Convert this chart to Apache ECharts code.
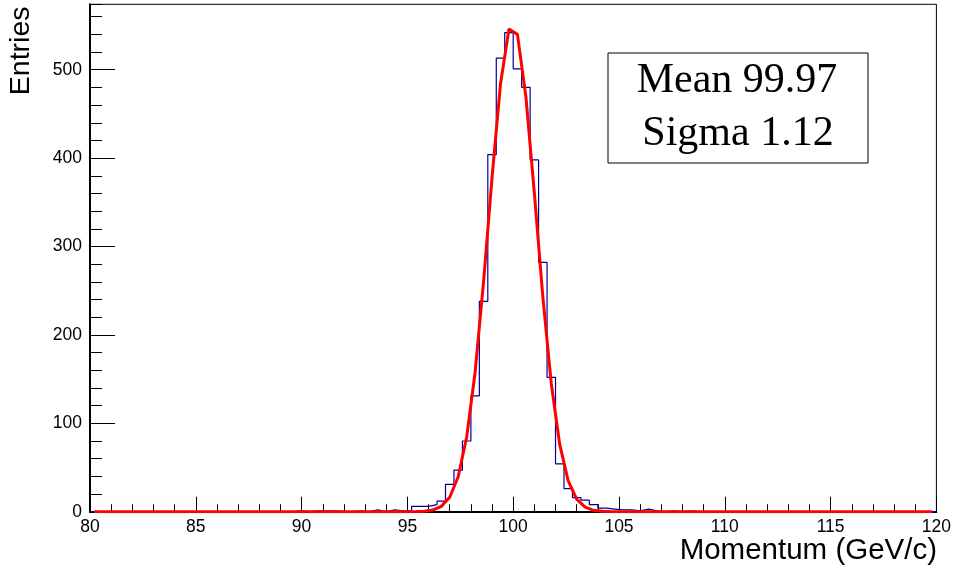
<!DOCTYPE html>
<html>
<head>
<meta charset="utf-8">
<script src="https://cdn.jsdelivr.net/npm/echarts@6/dist/echarts.min.js"></script>
<style>
html,body{margin:0;padding:0;background:#fff;}
#chart{width:954px;height:572px;}
</style>
</head>
<body>
<div id="chart"></div>
<script>
// ---- data ----
const BIN_MIN = 80;
const BIN_WIDTH = 0.4;
const X_MIN = 80, X_MAX = 120;
const Y_MAX = 574;
const xTitle = 'Momentum (GeV/c)';
const yTitle = 'Entries';
const statLines = ['Mean 99.97', 'Sigma 1.12'];

// histogram counts, 100 bins of width 0.4 from 80 to 120
const counts = [
  0,0,0,0,0,0,0,0,0,0,
  0,0,0,0,0,0,0,0,0,0,
  0,0,0,0,1,0,1,1,1,0,
  0,1,0,2,0,2,1,1,6,6,
  8,12,31,47,80,131,238,404,513,542,
  501,480,398,282,152,54,26,16,13,8,
  4,3,2,2,1,3,1,0,1,0,
  1,0,0,0,0,0,0,0,0,0,
  0,0,0,0,0,0,0,0,0,0,
  0,0,0,0,0,0,0,0,0,0
];

// fitted curve values read at bin centres
const fitValues = [
  0,0,0,0,0,0,0,0,0,0,
  0,0,0,0,0,0,0,0,0,0,
  0,0,0,0,0,0,0,0,0,0,
  0,0,0,0,0,0,0,0.03,0.13,0.54,
  1.9,6.0,16.3,39.5,84.2,157.8,260.3,378.0,484.0,546.0,
  540.0,469.5,360.3,243.4,144.8,75.8,34.9,14.2,5.1,1.6,
  0.44,0.11,0.02,0,0,0,0,0,0,0,
  0,0,0,0,0,0,0,0,0,0,
  0,0,0,0,0,0,0,0,0,0,
  0,0,0,0,0,0,0,0,0,0
];

// ---- build series data ----
const histData = counts.map((c, i) => [BIN_MIN + i * BIN_WIDTH, c]);
histData.push([BIN_MIN + counts.length * BIN_WIDTH, counts[counts.length - 1]]);
const fitData = fitValues.map((v, i) => [BIN_MIN + (i + 0.5) * BIN_WIDTH, v]);

const chart = echarts.init(document.getElementById('chart'), null, {renderer: 'canvas'});
const FONT = "'Liberation Sans', Arial, Helvetica, sans-serif";
const SERIF = "'Liberation Serif', 'Times New Roman', serif";

chart.setOption({
  animation: false,
  backgroundColor: '#fff',
  grid: {
    left: 90, right: 16.5, top: 4.3, bottom: 60.3,
    show: true, borderColor: '#000', borderWidth: 1, backgroundColor: 'transparent',
    containLabel: false
  },
  xAxis: [{
    type: 'value', min: X_MIN, max: X_MAX, interval: 5,
    axisLine: {show: true, onZero: false, lineStyle: {color: '#000', width: 2}},
    axisTick: {show: true, inside: true, length: 15, lineStyle: {color: '#000', width: 1}},
    minorTick: {show: true, splitNumber: 5, length: 7.5, lineStyle: {color: '#000', width: 1}},
    axisLabel: {show: true, color: '#000', fontSize: 17.5, fontFamily: FONT, margin: 6,
      showMinLabel: true, showMaxLabel: true},
    splitLine: {show: false}, minorSplitLine: {show: false}
  }],
  yAxis: [{
    type: 'value', min: 0, max: Y_MAX, interval: 100, position: 'left', offset: 0,
    axisLine: {show: true, onZero: false, lineStyle: {color: '#000', width: 2}},
    axisTick: {show: true, inside: true, length: 25, lineStyle: {color: '#000', width: 1}},
    axisLabel: {show: true, color: '#000', fontSize: 17.5, fontFamily: FONT, margin: 8,
      showMaxLabel: false},
    splitLine: {show: false}
  }, {
    type: 'value', min: 0, max: Y_MAX, interval: 20, position: 'left', offset: 0,
    axisLine: {show: false},
    axisTick: {show: true, inside: true, length: 12, lineStyle: {color: '#000', width: 1}},
    axisLabel: {show: false},
    splitLine: {show: false}
  }],
  series: [{
    type: 'line', name: 'hist', data: histData, step: 'end',
    xAxisIndex: 0, yAxisIndex: 0,
    showSymbol: false, symbol: 'none',
    lineStyle: {color: '#000099', width: 1.2},
    z: 2
  }, {
    type: 'line', name: 'fit', data: fitData,
    xAxisIndex: 0, yAxisIndex: 0,
    showSymbol: false, symbol: 'none', smooth: false,
    lineStyle: {color: '#ff0000', width: 3},
    z: 3
  }],
  graphic: [{
    type: 'rect', z: 10,
    shape: {x: 608, y: 53, width: 260, height: 110},
    style: {fill: '#fff', stroke: '#000', lineWidth: 1}
  }, {
    type: 'text', z: 11, x: 737, y: 81,
    style: {text: statLines[0], font: "42px " + SERIF, fill: '#000', textAlign: 'center', textVerticalAlign: 'middle'}
  }, {
    type: 'text', z: 11, x: 738, y: 134,
    style: {text: statLines[1], font: "42px " + SERIF, fill: '#000', textAlign: 'center', textVerticalAlign: 'middle'}
  }, {
    type: 'text', z: 11, x: 937, y: 551,
    style: {text: xTitle, font: "29.5px " + FONT, fill: '#000', textAlign: 'right', textVerticalAlign: 'middle'}
  }, {
    type: 'text', z: 11, x: 21.5, y: 6.5, rotation: Math.PI / 2,
    style: {text: yTitle, font: "28.5px " + FONT, fill: '#000', textAlign: 'right', textVerticalAlign: 'middle'}
  }]
});
</script>
</body>
</html>
